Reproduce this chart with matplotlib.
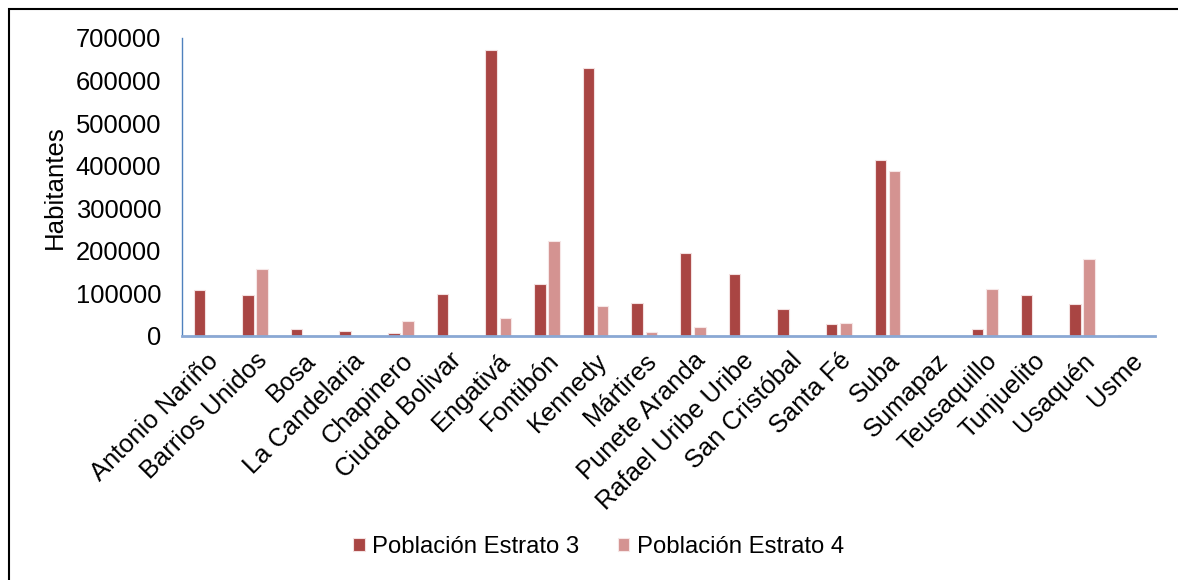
import numpy as np
import matplotlib.pyplot as plt
from matplotlib.patches import Rectangle

plt.rcParams['font.family'] = ['Liberation Sans', 'DejaVu Sans']

localidades = ['Antonio Nariño', 'Barrios Unidos', 'Bosa', 'La Candelaria', 'Chapinero',
               'Ciudad Bolivar', 'Engativá', 'Fontibón', 'Kennedy', 'Mártires',
               'Punete Aranda', 'Rafael Uribe Uribe', 'San Cristóbal', 'Santa Fé', 'Suba',
               'Sumapaz', 'Teusaquillo', 'Tunjuelito', 'Usaquén', 'Usme']
estrato3 = [107000, 97000, 17000, 12500, 7000, 98000, 672000, 123000, 629000, 78000,
            196000, 146000, 63000, 27500, 413000, 0, 15700, 97000, 74000, 1500]
estrato4 = [3000, 158000, 0, 0, 36000, 0, 43000, 223000, 71000, 9000,
            20000, 0, 0, 31500, 387000, 0, 111000, 0, 181000, 0]

c3 = '#A94543'
c4 = '#D49391'

fig = plt.figure(figsize=(11.78, 5.8), dpi=100)
ax = fig.add_axes([0.1545, 0.4207, 0.826, 0.5138])

x = np.arange(len(localidades))
w = 0.235
ax.bar(x - w / 2 - 0.028, estrato3, w, color=c3, edgecolor='#f3e0e0', linewidth=0.8,
       label='Población Estrato 3')
ax.bar(x + w / 2 + 0.028, estrato4, w, color=c4, edgecolor='#f6e6e6', linewidth=0.8,
       label='Población Estrato 4')

ax.set_xlim(-0.5, len(localidades) - 0.5)
ax.set_ylim(0, 700000)
ax.set_yticks(np.arange(0, 700001, 100000))
ax.set_xticks(x)
ax.set_xticklabels(localidades, rotation=45, ha='right', rotation_mode='anchor')
ax.tick_params(axis='both', length=0, labelsize=18.4)
ax.tick_params(axis='y', pad=15)
ax.tick_params(axis='x', pad=9)
ax.set_ylabel('Habitantes', fontsize=18.6, labelpad=6)

for s in ['top', 'right']:
    ax.spines[s].set_visible(False)
ax.spines['left'].set_color('#4F81BD')
ax.spines['left'].set_linewidth(1.0)
ax.spines['bottom'].set_color('#8AA8D4')
ax.spines['bottom'].set_linewidth(2.0)

fig.legend(loc='center', bbox_to_anchor=(0.508, 0.057), ncol=2, frameon=False,
           fontsize=17.2, handlelength=0.5, handleheight=0.5, handletextpad=0.3,
           columnspacing=1.6)

# outer frame, cut off on the right and bottom
fig.patches.append(Rectangle((9 / 1178, -0.1), 1.2, 1 - 9 / 580 + 0.1,
                             transform=fig.transFigure, fill=False,
                             edgecolor='black', linewidth=1.5))

fig.savefig('out.png', dpi=100)
